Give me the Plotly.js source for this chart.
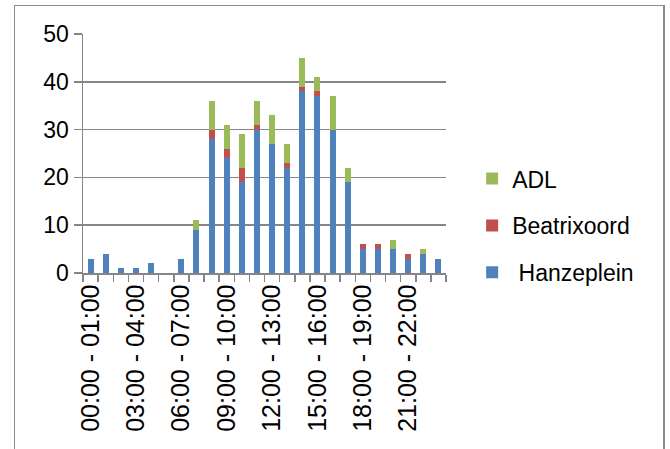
<!DOCTYPE html>
<html>
<head>
<meta charset="utf-8">
<script src="https://cdn.plot.ly/plotly-3.0.1.min.js"></script>
<style>
  html, body { margin: 0; padding: 0; background: #fff; }
  #wrap { position: relative; width: 670px; height: 449px; overflow: hidden; }
  #chart { position: absolute; left: 0; top: 0; width: 670px; height: 449px; }
  #frame { position: absolute; left: 14px; top: 5px; width: 648px; height: 470px;
           border-left: 1.5px solid #8c8c8c; border-top: 1.5px solid #8c8c8c; border-right: 2px solid #8c8c8c;
           pointer-events: none; }
</style>
</head>
<body>
<div id="wrap">
  <div id="chart"></div>
  <div id="frame"></div>
</div>
<script>
const categories = [
  "00:00 - 01:00","01:00 - 02:00","02:00 - 03:00","03:00 - 04:00","04:00 - 05:00","05:00 - 06:00",
  "06:00 - 07:00","07:00 - 08:00","08:00 - 09:00","09:00 - 10:00","10:00 - 11:00","11:00 - 12:00",
  "12:00 - 13:00","13:00 - 14:00","14:00 - 15:00","15:00 - 16:00","16:00 - 17:00","17:00 - 18:00",
  "18:00 - 19:00","19:00 - 20:00","20:00 - 21:00","21:00 - 22:00","22:00 - 23:00","23:00 - 24:00"
];
const hanzeplein  = [3,4,1,1,2,0,3,9,28,24,19,30,27,22,38,37,30,19,5,5,5,3,4,3];
const beatrixoord = [0,0,0,0,0,0,0,0,2,2,3,1,0,1,1,1,0,0,1,1,0,1,0,0];
const adl         = [0,0,0,0,0,0,0,2,6,5,7,5,6,4,6,3,7,3,0,0,2,0,1,0];
const shownLabels = categories.map((c, i) => (i % 3 === 0 ? c : ""));

const FONT = "Liberation Sans, Arial, sans-serif";

const traces = [
  { type: "bar", name: " Hanzeplein", x: categories, y: hanzeplein, marker: { color: "#4F81BD" }, legendgroup: "a", legendrank: 3 },
  { type: "bar", name: "Beatrixoord", x: categories, y: beatrixoord, marker: { color: "#C0504D" }, legendgroup: "b", legendrank: 2 },
  { type: "bar", name: "ADL", x: categories, y: adl, marker: { color: "#9BBB59" }, legendgroup: "c", legendrank: 1 }
];

const layout = {
  width: 670, height: 449,
  margin: { l: 83, r: 224, t: 34, b: 176 },
  barmode: "stack",
  bargap: 0.6,
  paper_bgcolor: "rgba(0,0,0,0)",
  plot_bgcolor: "rgba(0,0,0,0)",
  font: { family: FONT, color: "#000" },
  showlegend: true,
  legend: {
    x: 1.072, xanchor: "left", y: 0.485, yanchor: "top",
    traceorder: "grouped", tracegroupgap: 14,
    font: { family: FONT, size: 23, color: "#000" },
    bgcolor: "rgba(0,0,0,0)"
  },
  xaxis: {
    type: "category",
    tickmode: "array", tickvals: categories, ticktext: shownLabels,
    tickangle: -90, tickson: "boundaries",
    ticks: "outside", ticklen: 7, tickwidth: 1.5, tickcolor: "#868686",
    showline: true, linecolor: "#868686", linewidth: 1.5,
    showgrid: false, zeroline: false,
    tickfont: { family: FONT, size: 25, color: "#000" },
    range: [-0.5, 23.5]
  },
  yaxis: {
    range: [0, 50], dtick: 10, tick0: 0,
    ticks: "outside", ticklen: 8, tickwidth: 1.5, tickcolor: "#868686",
    showline: true, linecolor: "#868686", linewidth: 1.5,
    showgrid: true, gridcolor: "#868686", gridwidth: 1.5,
    zeroline: false,
    tickfont: { family: FONT, size: 23, color: "#000" }
  }
};

Plotly.newPlot("chart", traces, layout, { displayModeBar: false, staticPlot: true });
</script>
</body>
</html>
